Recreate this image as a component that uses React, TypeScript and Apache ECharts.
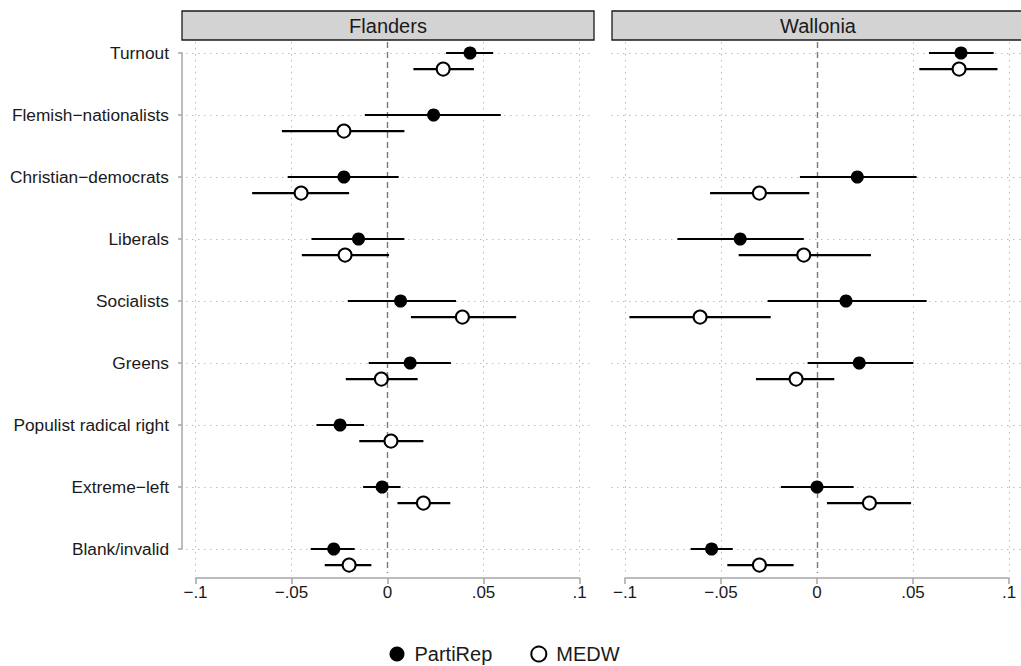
import React, { useEffect, useRef } from "react";
import * as echarts from "echarts";

// ---------- data ----------
const categories = [
  "Turnout",
  "Flemish−nationalists",
  "Christian−democrats",
  "Liberals",
  "Socialists",
  "Greens",
  "Populist radical right",
  "Extreme−left",
  "Blank/invalid",
];
const panels = ["Flanders", "Wallonia"];
const seriesNames = ["PartiRep", "MEDW"];
const xTickValues = [-0.1, -0.05, 0, 0.05, 0.1];
const xTickLabels = ["−.1", "−.05", "0", ".05", ".1"];

// Flanders
const flPartiRepEst = [0.043, 0.024, -0.0227, -0.0151, 0.0068, 0.0118, -0.0247, -0.0028, -0.028];
const flPartiRepLo = [0.0305, -0.0118, -0.052, -0.0396, -0.0207, -0.0098, -0.037, -0.0127, -0.04];
const flPartiRepHi = [0.055, 0.059, 0.0058, 0.0088, 0.0357, 0.033, -0.0122, 0.0068, -0.0171];
const flMedwEst = [0.029, -0.0227, -0.045, -0.0221, 0.039, -0.0032, 0.0018, 0.0187, -0.02];
const flMedwLo = [0.0135, -0.055, -0.0705, -0.0446, 0.0122, -0.0217, -0.0147, 0.0052, -0.0327];
const flMedwHi = [0.045, 0.0088, -0.02, 0.0008, 0.067, 0.0157, 0.0187, 0.0327, -0.0084];

// Wallonia (no Flemish-nationalists, no populist radical right)
const waPartiRepEst = [0.075, null, 0.021, -0.04, 0.0151, 0.022, null, 0.0, -0.0549];
const waPartiRepLo = [0.0583, null, -0.0089, -0.0727, -0.0257, -0.0049, null, -0.0188, -0.0658];
const waPartiRepHi = [0.092, null, 0.0519, -0.0069, 0.0571, 0.0502, null, 0.0191, -0.0439];
const waMedwEst = [0.074, null, -0.03, -0.0069, -0.0609, -0.0109, null, 0.0273, -0.03];
const waMedwLo = [0.0533, null, -0.0557, -0.0408, -0.0977, -0.0318, null, 0.0052, -0.0467];
const waMedwHi = [0.094, null, -0.004, 0.0281, -0.0241, 0.009, null, 0.049, -0.0122];

// ---------- layout ----------
const W = 1021;
const H = 666;
const FONT = "'Liberation Sans', Arial, Helvetica, sans-serif";
const MEDW_OFFSET = 0.26; // rows below the PartiRep estimate
const axisBoxes = [
  { left: 195.5, right: 579.5 },
  { left: 625, right: 1009 },
];
const fullBoxes = [
  { left: 186, right: 592 },
  { left: 611, right: 1021 },
];
const AX_TOP = 53;
const AX_BOTTOM = 549;
const FULL_TOP = 42;
const FULL_BOTTOM = 573;
const X_AXIS_Y = 578;
const Y_AXIS_X = 182;

function App() {
  const ref = useRef<HTMLDivElement>(null);

  useEffect(() => {
    if (!ref.current) return;
    const chart = echarts.init(ref.current, null, { renderer: "svg" });

    const panelData = [
      {
        pr: [flPartiRepEst, flPartiRepLo, flPartiRepHi],
        md: [flMedwEst, flMedwLo, flMedwHi],
      },
      {
        pr: [waPartiRepEst, waPartiRepLo, waPartiRepHi],
        md: [waMedwEst, waMedwLo, waMedwHi],
      },
    ];

    const grids: any[] = [];
    const xAxes: any[] = [];
    const yAxes: any[] = [];
    const series: any[] = [];

    const nRows = categories.length - 1;

    panels.forEach((_, p) => {
      const ab = axisBoxes[p];
      const fb = fullBoxes[p];
      const xScale = 0.2 / (ab.right - ab.left);
      const yScale = nRows / (AX_BOTTOM - AX_TOP);
      const xMinFull = -0.1 - (ab.left - fb.left) * xScale;
      const xMaxFull = 0.1 + (fb.right - ab.right) * xScale;
      const yMinFull = -(AX_TOP - FULL_TOP) * yScale;
      const yMaxFull = nRows + (FULL_BOTTOM - AX_BOTTOM) * yScale;

      grids.push({
        left: ab.left,
        width: ab.right - ab.left,
        top: AX_TOP,
        height: AX_BOTTOM - AX_TOP,
        containLabel: false,
      });
      grids.push({
        left: fb.left,
        width: fb.right - fb.left,
        top: FULL_TOP,
        height: FULL_BOTTOM - FULL_TOP,
        containLabel: false,
      });
      const gA = 2 * p;
      const gF = 2 * p + 1;

      xAxes.push({
        type: "value",
        gridIndex: gA,
        min: -0.1,
        max: 0.1,
        interval: 0.05,
        position: "bottom",
        offset: X_AXIS_Y - AX_BOTTOM,
        axisLine: { show: true, onZero: false, lineStyle: { color: "#a6a6a6", width: 1.5 } },
        axisTick: { show: true, length: 6, lineStyle: { color: "#a6a6a6", width: 1.5 } },
        axisLabel: {
          show: true,
          margin: 6,
          color: "#1a1a1a",
          fontSize: 17,
          fontFamily: FONT,
          formatter: (v: number) => {
            const i = xTickValues.findIndex((t) => Math.abs(t - v) < 1e-9);
            return i >= 0 ? xTickLabels[i] : "";
          },
        },
        splitLine: { show: false },
      });
      xAxes.push({
        type: "value",
        gridIndex: gF,
        min: xMinFull,
        max: xMaxFull,
        show: false,
        splitLine: { show: false },
      });

      yAxes.push({
        type: "value",
        gridIndex: gA,
        min: 0,
        max: nRows,
        interval: 1,
        inverse: true,
        position: "left",
        offset: ab.left - Y_AXIS_X,
        show: p === 0,
        axisLine: { show: true, onZero: false, lineStyle: { color: "#a6a6a6", width: 1.5 } },
        axisTick: { show: true, length: 4, lineStyle: { color: "#a6a6a6", width: 1.5 } },
        axisLabel: {
          show: true,
          margin: 13,
          color: "#1a1a1a",
          fontSize: 17.3,
          fontFamily: FONT,
          formatter: (v: number) => categories[Math.round(v)] ?? "",
        },
        splitLine: { show: false },
      });
      yAxes.push({
        type: "value",
        gridIndex: gF,
        min: yMinFull,
        max: yMaxFull,
        inverse: true,
        show: false,
        splitLine: { show: false },
      });

      // grid lines
      const dotted = { color: "#bdbdbd", width: 1, type: [1.5, 4.5] };
      const markData: any[] = [];
      xTickValues.forEach((v) => {
        if (v === 0) {
          markData.push({ xAxis: v, lineStyle: { color: "#7a7a7a", width: 1.4, type: [6, 4] } });
        } else {
          markData.push({ xAxis: v, lineStyle: dotted });
        }
      });
      categories.forEach((_, i) => {
        markData.push({ yAxis: i, lineStyle: dotted });
      });
      series.push({
        type: "line",
        name: "grid" + p,
        xAxisIndex: gF,
        yAxisIndex: gF,
        data: [],
        silent: true,
        z: 1,
        markLine: {
          z: 1,
          silent: true,
          symbol: ["none", "none"],
          label: { show: false },
          animation: false,
          data: markData,
        },
      });

      const pd = panelData[p];
      [pd.pr, pd.md].forEach((arr, s) => {
        const [est, lo, hi] = arr;
        const off = s === 0 ? 0 : MEDW_OFFSET;
        const barData: any[] = [];
        const ptData: any[] = [];
        est.forEach((e, i) => {
          if (e === null || lo[i] === null || hi[i] === null) return;
          barData.push([i + off, lo[i], hi[i]]);
          ptData.push([e, i + off]);
        });
        series.push({
          type: "custom",
          name: seriesNames[s] + " CI " + p,
          xAxisIndex: gF,
          yAxisIndex: gF,
          z: 10,
          silent: true,
          encode: { x: [1, 2], y: 0 },
          data: barData,
          renderItem: (_params: any, api: any) => {
            const y = api.value(0);
            const a = api.coord([api.value(1), y]);
            const b = api.coord([api.value(2), y]);
            return {
              type: "line",
              shape: { x1: a[0], y1: a[1], x2: b[0], y2: b[1] },
              style: { stroke: "#000", lineWidth: 2.1 },
            };
          },
        });
        series.push({
          type: "scatter",
          name: seriesNames[s],
          xAxisIndex: gF,
          yAxisIndex: gF,
          z: 12,
          symbol: "circle",
          symbolSize: 13,
          data: ptData,
          itemStyle:
            s === 0
              ? { color: "#000", borderColor: "#000", borderWidth: 0, opacity: 1 }
              : { color: "#fff", borderColor: "#000", borderWidth: 2, opacity: 1 },
        });
      });
    });

    const headerGraphics: any[] = panels.map((name, p) => {
      const left = p === 0 ? 182 : 612;
      const width = 412;
      return {
        type: "group",
        children: [
          {
            type: "rect",
            shape: { x: left, y: 11, width, height: 29 },
            style: { fill: "#d3d3d3", stroke: "#1a1a1a", lineWidth: 1.3 },
          },
          {
            type: "text",
            x: left + width / 2,
            y: 26,
            style: {
              text: name,
              fill: "#1a1a1a",
              font: `20px ${FONT}`,
              align: "center",
              verticalAlign: "middle",
            },
          },
        ],
      };
    });

    chart.setOption({
      animation: false,
      backgroundColor: "#fff",
      textStyle: { fontFamily: FONT },
      grid: grids,
      xAxis: xAxes,
      yAxis: yAxes,
      legend: {
        data: seriesNames,
        left: 384.5,
        top: 639,
        icon: "circle",
        itemWidth: 25,
        itemHeight: 15,
        itemGap: 38,
        selectedMode: false,
        textStyle: { fontSize: 20, color: "#1a1a1a", fontFamily: FONT },
      },
      graphic: headerGraphics,
      series,
    });

    return () => chart.dispose();
  }, []);

  return (
    <div
      ref={ref}
      style={{ position: "fixed", left: 0, top: 0, width: W, height: H, background: "#fff" }}
    />
  );
}

export default App;
